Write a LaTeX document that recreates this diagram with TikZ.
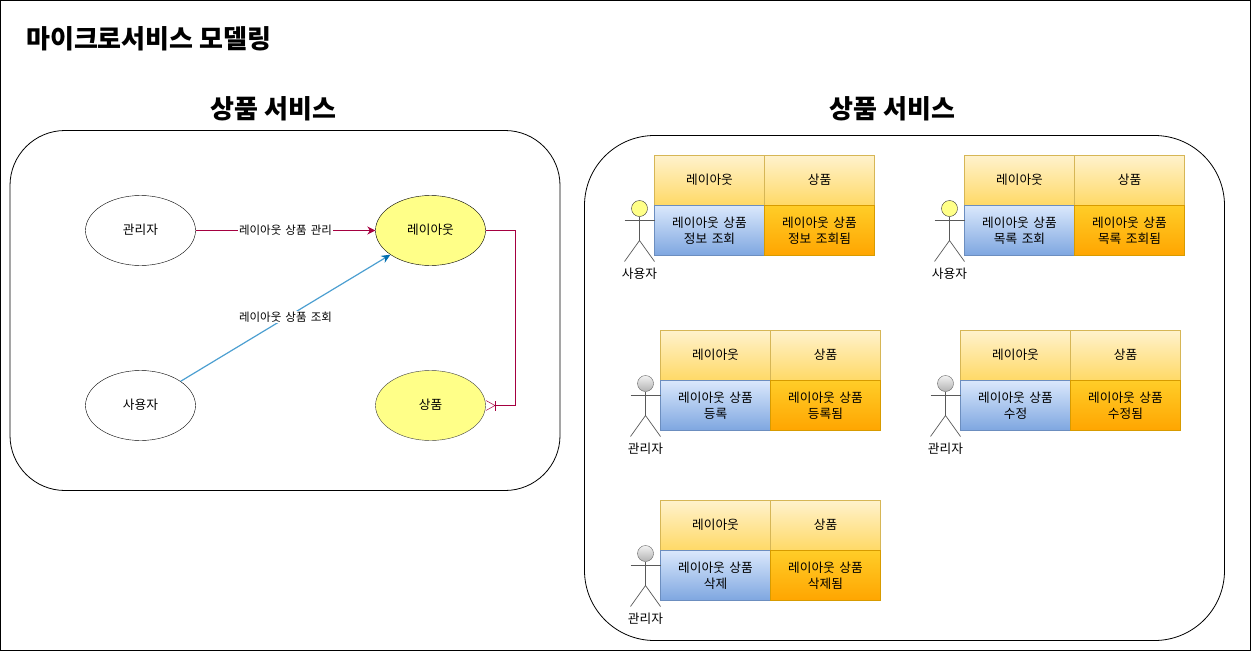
\documentclass[tikz,border=0pt]{standalone}
\usepackage{fontspec}
\setmainfont{Noto Sans CJK KR}
\newfontfamily\labelface{Noto Sans CJK KR}[WordSpace=1.6]
\usetikzlibrary{arrows.meta,shapes.geometric}
\definecolor{linkred}{HTML}{A50040}
\definecolor{linkblue}{HTML}{4C9FD1}
\definecolor{tipblue}{HTML}{006EAF}
\definecolor{noteyellow}{HTML}{FFFF88}
\definecolor{HeadLine}{HTML}{D6B656}
\definecolor{HeadTop}{HTML}{FFF2CC}
\definecolor{HeadBottom}{HTML}{FFD966}
\definecolor{TaskLine}{HTML}{6C8EBF}
\definecolor{TaskTop}{HTML}{DAE8FC}
\definecolor{TaskBottom}{HTML}{7EA6E0}
\definecolor{DoneLine}{HTML}{D79B00}
\definecolor{DoneTop}{HTML}{FFCD28}
\definecolor{DoneBottom}{HTML}{FFA500}
\tikzset{
    every node/.style={font=\labelface\fontsize{12.7}{16}\selectfont},
    bigtitle/.style={inner sep=0pt,font=\fontsize{26}{30}\selectfont\bfseries},
    outerbox/.style={draw,rounded corners=55pt,minimum width=#1,line width=0.8pt},
    usecase/.style={ellipse,draw,minimum width=110pt,minimum height=70pt,inner sep=0pt,text depth=3.5pt},
    linklabel/.style={fill=white,text=black,inner sep=1pt,font=\labelface\fontsize{11.5}{14}\selectfont},
    cell/.style={rectangle,draw,anchor=north west,align=center,minimum width=110pt,minimum height=50pt,inner sep=0pt,outer sep=0pt},
    headcell/.style={cell,draw=HeadLine,top color=HeadTop,bottom color=HeadBottom,text depth=3.5pt},
    taskcell/.style={cell,draw=TaskLine,top color=TaskTop,bottom color=TaskBottom},
    donecell/.style={cell,draw=DoneLine,top color=DoneTop,bottom color=DoneBottom},
    actorhead/.style={circle,draw=#1,inner sep=0pt,minimum size=16pt},
    yellowhead/.style={actorhead=black!80,fill=noteyellow},
    grayhead/.style={actorhead=black!60,top color=black!5,bottom color=black!30},
    actorline/.style={draw=black!65,line width=0.7pt}
}
\begin{document}
\begin{tikzpicture}[x=1pt,y=-1pt]
    \useasboundingbox (0,0) rectangle (1251,651);
    \draw[line width=1pt] (0.5,0.5) rectangle (1250.5,650.5);
    \node[bigtitle,anchor=west] (title) at (26,39) {마이크로서비스 모델링};

    % left side
    \node[bigtitle] (lefttitle) at (273.5,109) {상품 서비스};
    \node[outerbox=550pt,minimum height=360pt] (leftbox) at (285,310.5) {};
    \node[usecase] (admin) at (140.5,230.5) {관리자};
    \node[usecase,fill=noteyellow] (layout) at (430.5,230.5) {레이아웃};
    \node[usecase] (user) at (140.5,405.5) {사용자};
    \node[usecase,fill=noteyellow,draw=black!75] (product) at (430.5,405.5) {상품};
    \draw[-{Stealth[length=8pt,width=8pt]},linkred,line width=0.9pt] (admin) -- node[linklabel] {레이아웃 상품 관리} (layout);
    \draw[-{Stealth[length=9pt,width=8pt,color=tipblue]},linkblue,line width=1.2pt] (user) -- node[linklabel,pos=0.5,yshift=1pt] {레이아웃 상품 조회} (layout);
    \coordinate (bend) at (515.5,230.5);
    \draw[linkred,line width=0.9pt,-{Bar[width=10pt,sep=0pt]Straight Barb[reversed,length=9pt,width=10pt,line width=0.5pt]}] (layout) -- (bend) |- (product);

    % right side
    \node[bigtitle] (righttitle) at (892.5,109) {상품 서비스};
    \node[outerbox=640pt,minimum height=505pt,rounded corners=70pt] (rightbox) at (904.5,388) {};
    \foreach \n/\cx/\cy/\who/\headkind/\task/\done in {
        1/654.5/155.5/사용자/yellowhead/{레이아웃 상품\\정보 조회}/{레이아웃 상품\\정보 조회됨},
        2/964.5/155.5/사용자/yellowhead/{레이아웃 상품\\목록 조회}/{레이아웃 상품\\목록 조회됨},
        3/660.5/330.5/관리자/grayhead/{레이아웃 상품\\등록}/{레이아웃 상품\\등록됨},
        4/960.5/330.5/관리자/grayhead/{레이아웃 상품\\수정}/{레이아웃 상품\\수정됨},
        5/660.5/500.5/관리자/grayhead/{레이아웃 상품\\삭제}/{레이아웃 상품\\삭제됨}} {
        \node[headcell] (head\n) at (\cx,\cy) {레이아웃};
        \node[headcell] (part\n) at (\cx+110,\cy) {상품};
        \node[taskcell] (task\n) at (\cx,\cy+50) {\task};
        \node[donecell] (done\n) at (\cx+110,\cy+50) {\done};
        % stick figure left of the card
        \node[\headkind] (skull\n) at (\cx-15,\cy+53) {};
        \coordinate (hip\n) at (\cx-15,\cy+85);
        \draw[actorline] (skull\n) -- (hip\n);
        \draw[actorline] (\cx-30,\cy+65) -- (\cx,\cy+65);
        \draw[actorline] (\cx-30,\cy+106) -- (hip\n) -- (\cx,\cy+106);
        \node (actor\n) at (\cx-15,\cy+118) {\who};
    }
\end{tikzpicture}
\end{document}
